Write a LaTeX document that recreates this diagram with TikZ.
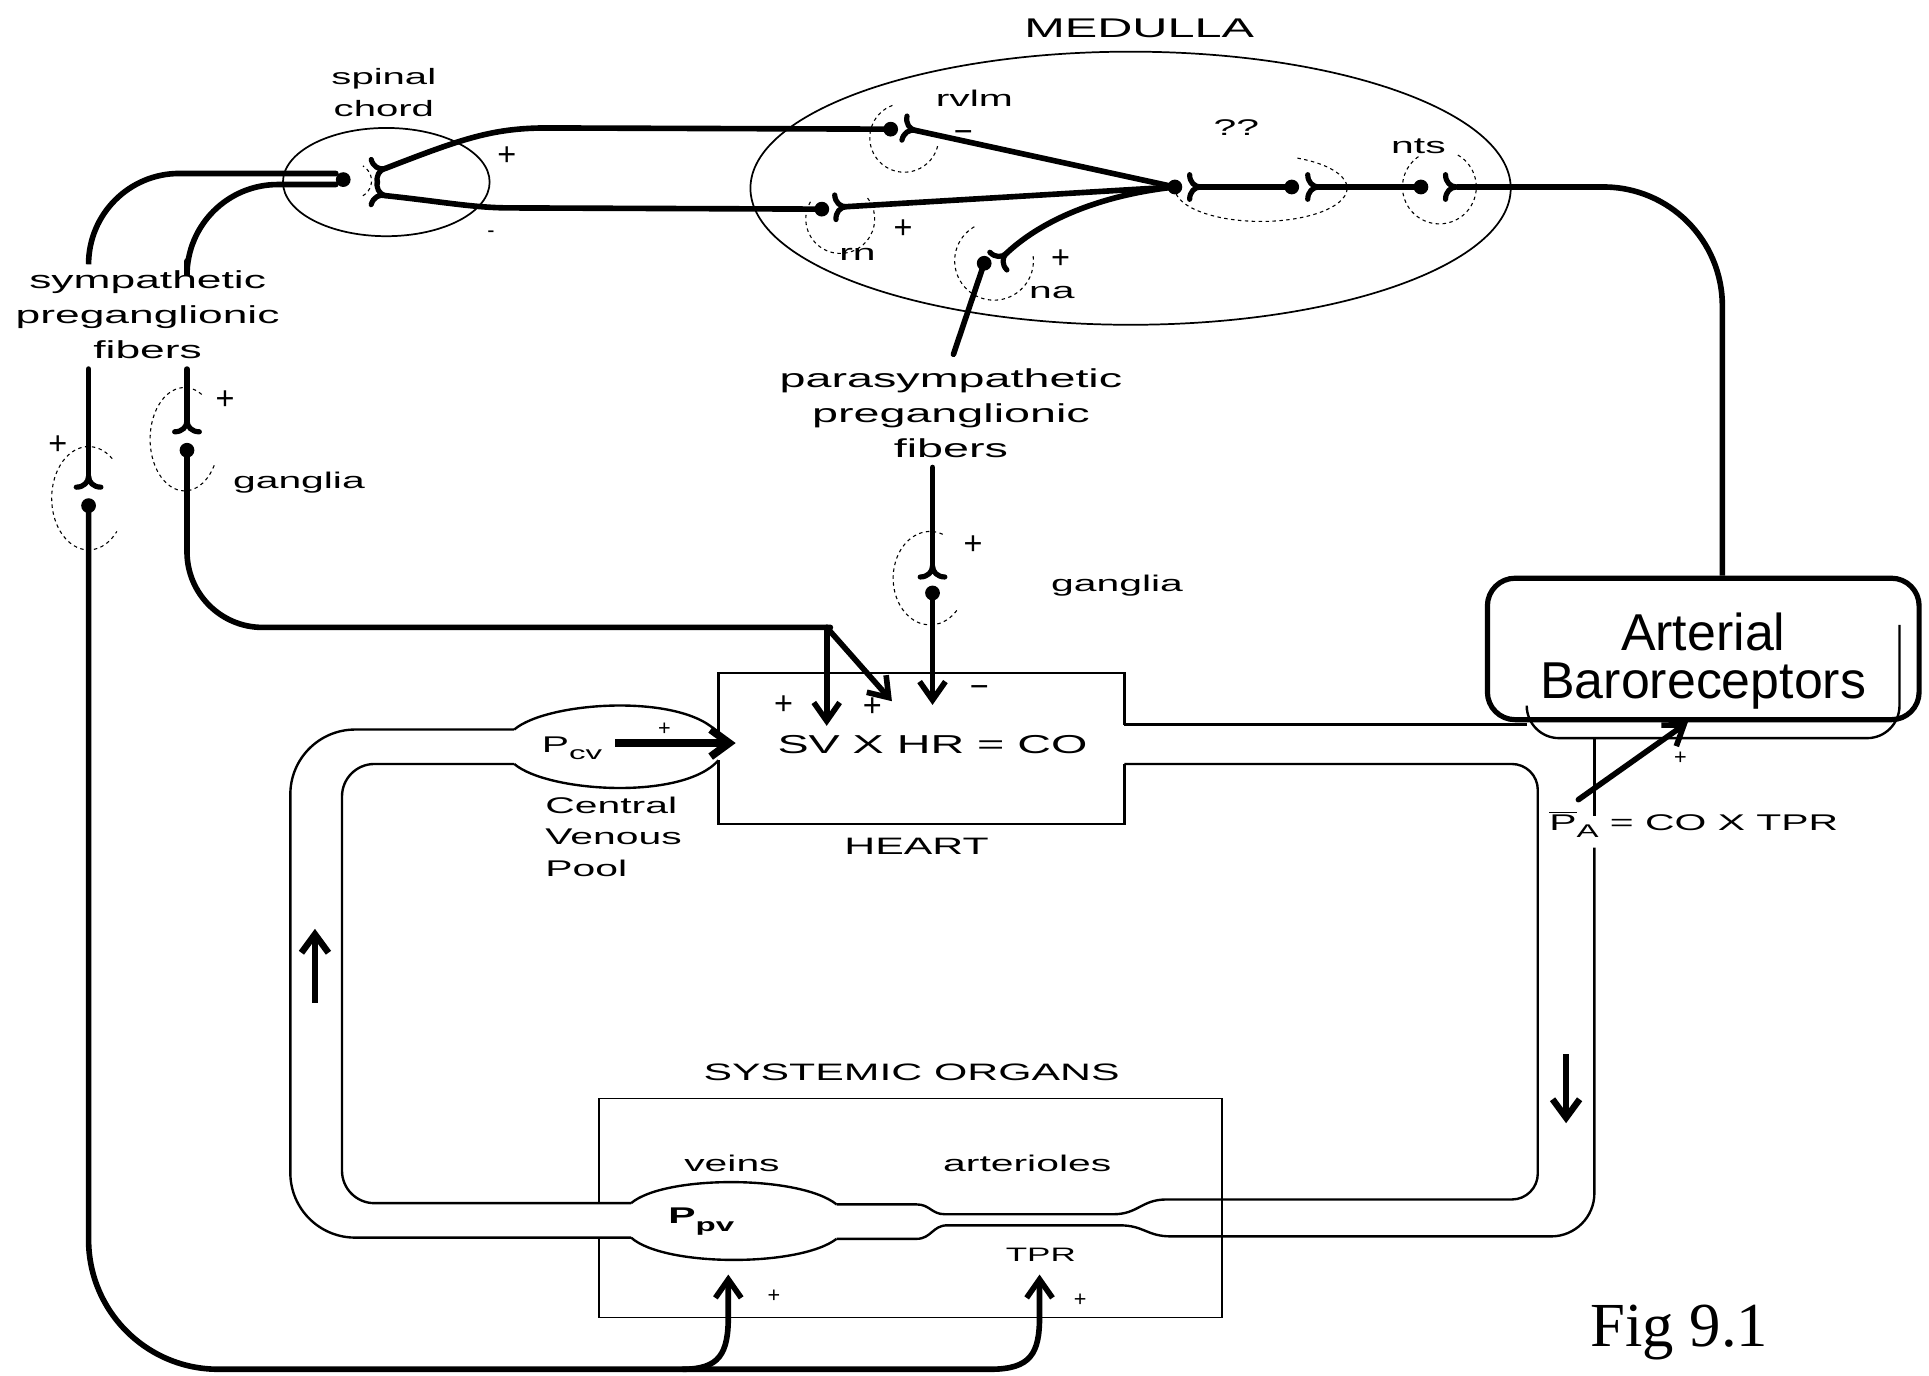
\documentclass[tikz,border=0pt]{standalone}
\usepackage{fontspec}
\setmainfont{Liberation Sans}
\newfontfamily\widefont{Liberation Sans}[FakeStretch=1.8]
\newfontfamily\figfont{Liberation Serif}
\usetikzlibrary{arrows.meta}

\begin{document}
\begin{tikzpicture}[
    x=0.02cm, y=-0.02cm,
    nerve/.style={line width=2.6pt, line cap=round},
    vessel/.style={line width=1.1pt},
    thinline/.style={line width=0.8pt},
    syn/.style={line width=0.5pt, dash pattern=on 1.6pt off 1.6pt},
    arrow/.style={-{Straight Barb[length=3mm, width=4.2mm]}},
    flow/.style={line width=3pt, -{Straight Barb[length=3mm, width=4.4mm]}},
    lbl/.style={font=\widefont\fontsize{12}{16.2}\selectfont, align=center, inner sep=0pt},
    smalllbl/.style={font=\widefont\fontsize{10.5}{14.5}\selectfont, align=center, inner sep=0pt},
    sign/.style={font=\fontsize{15}{15}\selectfont, inner sep=0pt},
    tinysign/.style={font=\fontsize{10}{10}\selectfont, inner sep=0pt},
    barobox/.style={draw, line width=2.4pt, rounded corners=0.45cm,
                    minimum width=7.02cm, minimum height=2.3cm, inner sep=0pt,
                    align=center, font=\fontsize{24}{22}\selectfont},
    fork/.pic={\draw[line width=2.4pt, line cap=round, line join=round]
               (-9,-10) .. controls (-9,-4) and (-5,0) .. (0,0)
               .. controls (-5,0) and (-9,4) .. (-9,10);}
  ]
  \useasboundingbox (0,0) rectangle (1568,1118);

  % Medulla
  \draw[thinline] (919,153) ellipse [x radius=309, y radius=111];
  \node[lbl, font=\widefont\fontsize{12.5}{15}\selectfont] (medulla) at (926,23) {MEDULLA};
  % Spinal chord
  \draw[thinline] (314,148) ellipse [x radius=84, y radius=44];
  \node[smalllbl, font=\widefont\fontsize{10.3}{14.7}\selectfont] (spinal) at (312,75) {spinal\\chord};

  % Synapse points
  \coordinate (spdot) at (279,146);
  \coordinate (spup) at (313,137);
  \coordinate (splo) at (313,159);
  \coordinate (rvlm) at (724,105);
  \coordinate (rvlmf) at (744,106);
  \coordinate (rn) at (668,170);
  \coordinate (rnf) at (688,168);
  \coordinate (na) at (800,214);
  \coordinate (naf) at (818,206);
  \coordinate (J) at (955,152);
  \coordinate (Jf) at (976,152);
  \coordinate (qq) at (1050,152);
  \coordinate (qqf) at (1072,152);
  \coordinate (nts) at (1155,152);
  \coordinate (ntsf) at (1184,152);
  \coordinate (gA) at (72,387);
  \coordinate (gAd) at (72,411);
  \coordinate (gB) at (152,342);
  \coordinate (gBd) at (152,366);
  \coordinate (gP) at (758,460);
  \coordinate (gPd) at (758,482);

  \foreach \p in {spdot, rvlm, rn, na, J, qq, nts, gAd, gBd, gPd}
    \fill (\p) circle [radius=6];
  \pic[rotate=15] at (spup) {fork};
  \pic[rotate=-15] at (splo) {fork};
  \pic[rotate=-12] at (rvlmf) {fork};
  \pic[rotate=3] at (rnf) {fork};
  \pic[rotate=44] at (naf) {fork};
  \pic at (Jf) {fork};
  \pic at (qqf) {fork};
  \pic at (ntsf) {fork};
  \pic[rotate=90] at (gA) {fork};
  \pic[rotate=90] at (gB) {fork};
  \pic[rotate=90] at (gP) {fork};

  % Dotted rings round the synapses
  \draw[syn] (288,147) ++(60:14) arc [start angle=60, end angle=-60, radius=14];
  \draw[syn] (735,112) ++(-110:28) arc [start angle=-110, end angle=-350, radius=28];
  \draw[syn] (683,178) ++(-150:28) arc [start angle=-150, end angle=-400, radius=28];
  \draw[syn] (808,212) ++(-120:32) arc [start angle=-120, end angle=-370, radius=32];
  \draw[syn] (1025,153) ++(-65:70 and 27) arc [start angle=-65, end angle=175, x radius=70, y radius=27];
  \draw[syn] (1170,152) ++(-60:30) arc [start angle=-60, end angle=240, radius=30];
  \draw[syn] (72,405) ++(-50:30 and 42) arc [start angle=-50, end angle=-320, x radius=30, y radius=42];
  \draw[syn] (150,357) ++(-60:28 and 42) arc [start angle=-60, end angle=-330, x radius=28, y radius=42];
  \draw[syn] (756,470) ++(-70:30 and 38) arc [start angle=-70, end angle=-320, x radius=30, y radius=38];

  % Medulla pathways
  \draw[nerve] (spup) .. controls (375,113) and (400,104) .. (445,104) -- (rvlm);
  \draw[nerve] (splo) .. controls (360,164) and (385,169) .. (415,169) -- (rn);
  \draw[nerve] (rvlmf) -- (J);
  \draw[nerve] (rnf) -- (J);
  \draw[nerve] (naf) .. controls (850,176) and (900,158) .. (J);
  \draw[nerve] (Jf) -- (qq);
  \draw[nerve] (qqf) -- (nts);
  \node[smalllbl] (rvlmlbl) at (792,80) {rvlm};
  \node[smalllbl] (rnlbl) at (697,207) {rn};
  \node[smalllbl] (nalbl) at (855,238) {na};
  \node[smalllbl] (qqlbl) at (1005,104) {??};
  \node[smalllbl] (ntslbl) at (1153,119) {nts};
  \node[sign] (spplus) at (412,127) {+};
  \node[tinysign] (spminus) at (399,190) {-};
  \node[sign] (rvlmminus) at (783,111) {−};
  \node[sign] (rnplus) at (734,186) {+};
  \node[sign] (naplus) at (862,211) {+};

  % Arterial baroreceptors
  \node[barobox] (baro) at (1384.5,527.5) {\rule{0pt}{1.0cm}Arterial\\Baroreceptors};
  \draw[nerve, line cap=butt, rounded corners=55] (ntsf) -- (1400,152) -- (1400,152 |- baro.north);

  % Sympathetic preganglionic fibers
  \draw[nerve, rounded corners=42] (273,141) -- (72,141) -- (72,212);
  \draw[nerve, rounded corners=42] (273,150) -- (152,150) -- (152,212);
  \node[lbl, font=\widefont\fontsize{11.4}{16.2}\selectfont] (symp) at (120,256) {sympathetic\\preganglionic\\fibers};
  \draw[nerve] (72,300) -- (gA);
  \draw[nerve] (152,300) -- (gB);
  \node[sign] (gAplus) at (47,362) {+};
  \node[sign] (gBplus) at (183,325) {+};
  \node[smalllbl] (ganglia1) at (243,392) {ganglia};
  \draw[nerve, rounded corners=35] (gBd) -- (152,510) -- (675,510);
  \draw[nerve, arrow] (672,510) -- (672,590);
  \draw[nerve, arrow] (672,510) -- (725,570);

  % Parasympathetic preganglionic fibers
  \draw[nerve] (na) -- (775,288);
  \node[lbl] (parasymp) at (773,336) {parasympathetic\\preganglionic\\fibers};
  \draw[nerve] (758,380) -- (gP);
  \draw[nerve, arrow] (gPd) -- (758,573);
  \node[sign] (gPplus) at (791,443) {+};
  \node[smalllbl] (ganglia2) at (908,476) {ganglia};

  % Heart
  \draw[vessel] (584,596) -- (584,547) -- (914,547) -- (914,589);
  \draw[vessel] (914,621) -- (914,670) -- (584,670) -- (584,618);
  \node[lbl] (heart) at (758,605) {SV X HR = CO};
  \node[smalllbl, font=\widefont\fontsize{11}{14}\selectfont] (heartlbl) at (745,688) {HEART};
  \node[sign] (hplus1) at (637,573) {+};
  \node[sign] (hplus2) at (709,575) {+};
  \node[sign] (hminus) at (796,562) {−};

  % Central venous pool
  \draw[vessel] (418,593) .. controls (445,570) and (555,563) .. (584,596);
  \draw[vessel] (418,621) .. controls (445,644) and (555,651) .. (584,618);
  \node[smalllbl] (pcv) at (465,608) {P\raisebox{-0.6ex}{\fontsize{8.5}{9}\selectfont cv}};
  \draw[flow, line width=3.6pt] (500,604) -- (598,604);
  \node[tinysign] (pcvplus) at (540,593) {+};
  \node[smalllbl, align=left, anchor=west] (cvp) at (443,680) {Central\\Venous\\Pool};

  % Circulation loop
  \draw[vessel, rounded corners=30] (418,593) -- (236,593) -- (236,1006) -- (513,1006);
  \draw[vessel, rounded corners=15] (418,621) -- (278,621) -- (278,978) -- (513,978);
  \draw[vessel] (513,978) .. controls (540,955) and (650,955) .. (680,979);
  \draw[vessel] (513,1006) .. controls (540,1030) and (650,1030) .. (680,1007);
  \draw[vessel] (680,979) -- (745,979) .. controls (756,979) and (757,987) .. (768,987)
    -- (905,987) .. controls (925,987) and (928,975) .. (948,975)
    [rounded corners=12] -- (1250,975) -- (1250,621) -- (914,621);
  \draw[vessel] (680,1007) -- (745,1007) .. controls (757,1007) and (758,996) .. (770,996)
    -- (910,996) .. controls (930,996) and (932,1005) .. (952,1005)
    [rounded corners=20] -- (1296,1005) -- (1296,689);
  \draw[vessel] (1296,663) -- (1296,600);
  \draw[vessel] (914,589) -- (1241,589);
  \draw[vessel, rounded corners=15] (1241,577) -- (1241,600) -- (1544,600) -- (1544,508);
  \draw[flow] (256,815) -- (256,755);
  \draw[flow] (1273,857) -- (1273,913);

  % Mean arterial pressure
  \node[smalllbl, anchor=west] (pa) at (1259,670)
    {\(\overline{\hbox{P}}\)\raisebox{-0.6ex}{\fontsize{8.5}{9}\selectfont A} = CO X TPR};
  \draw[nerve, arrow] (1283,650) -- (1372,587);
  \node[tinysign] (paplus) at (1366,616) {+};

  % Systemic organs
  \draw[thinline] (487,978) -- (487,893) -- (993,893) -- (993,1071) -- (487,1071) -- (487,1006);
  \node[lbl, font=\widefont\fontsize{11}{14}\selectfont] (sysorg) at (741,872) {SYSTEMIC ORGANS};
  \node[smalllbl] (veins) at (595,946) {veins};
  \node[smalllbl] (arterioles) at (835,946) {arterioles};
  \node[smalllbl] (ppv) at (570,993) {\textbf{P}\raisebox{-0.6ex}{\fontsize{8.5}{9}\selectfont\bfseries pv}};
  \node[smalllbl, font=\widefont\fontsize{9}{10}\selectfont] (tpr) at (846,1020) {TPR};

  % Sympathetic efferents to the vessels
  \draw[nerve, arrow, rounded corners=60] (gAd) -- (72,1113) [sharp corners] -- (555,1113)
    .. controls (585,1113) and (592,1100) .. (592,1070) -- (592,1036);
  \draw[nerve, arrow] (555,1113) -- (805,1113)
    .. controls (838,1113) and (845,1100) .. (845,1070) -- (845,1036);
  \node[tinysign] (vplus) at (629,1054) {+};
  \node[tinysign] (aplus) at (878,1057) {+};

  % Caption
  \node[inner sep=0pt, font=\figfont\fontsize{29}{30}\selectfont] (fig) at (1365,1083) {Fig 9.1};
\end{tikzpicture}
\end{document}
